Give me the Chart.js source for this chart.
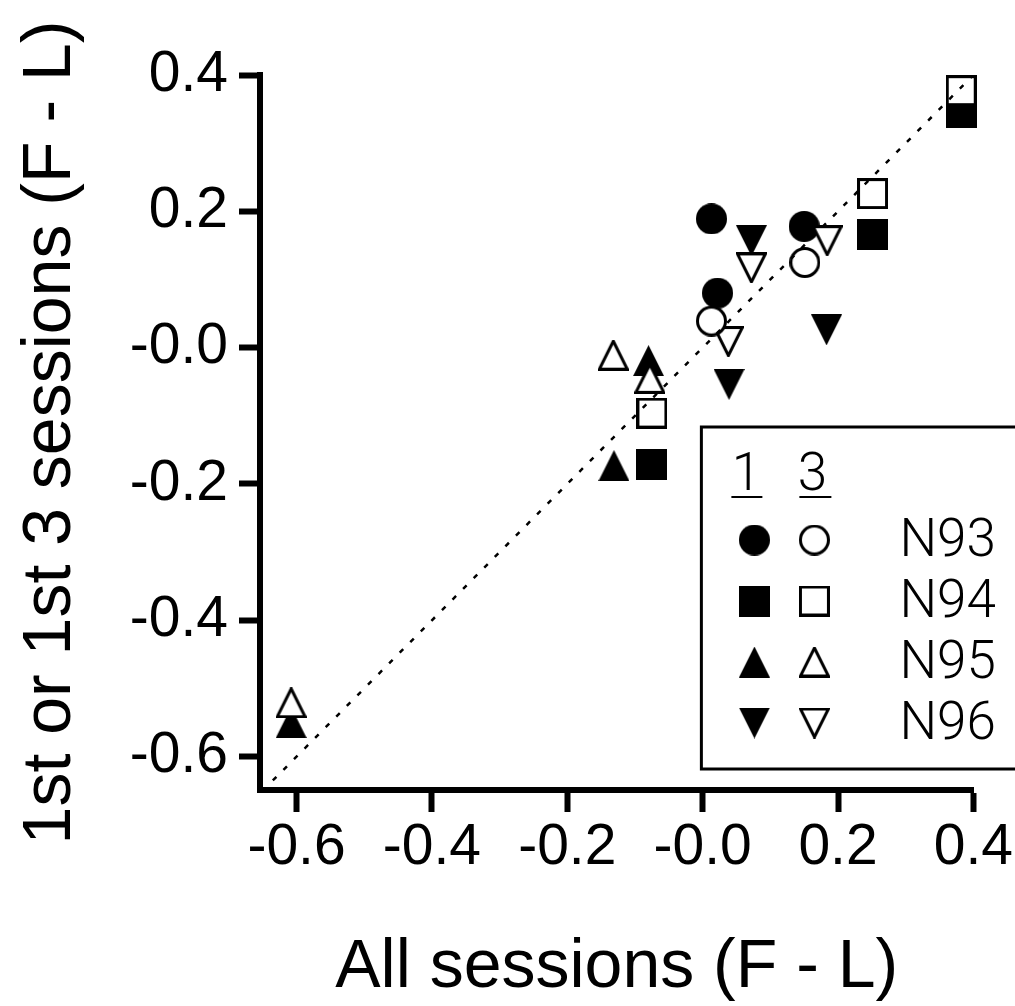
<!DOCTYPE html>
<html>
<head>
<meta charset="utf-8">
<script src="https://cdn.jsdelivr.net/npm/chart.js@4.4.1/dist/chart.umd.min.js"></script>
<style>
  html, body { margin: 0; padding: 0; background: #fff; }
  #wrap { width: 1015px; height: 1006px; }
</style>
</head>
<body>
<div id="wrap"><canvas id="scatter"></canvas></div>
<script>
// [all sessions (F - L), 1st or 1st 3 sessions (F - L)]
const n93First = [[0.013, 0.189], [0.022, 0.080], [0.150, 0.178]];
const n93Three = [[0.013, 0.039], [0.151, 0.125]];
const n94First = [[0.382, 0.345], [0.251, 0.166], [-0.075, -0.172]];
const n94Three = [[0.382, 0.377], [0.251, 0.226], [-0.075, -0.096]];
const n95First = [[-0.131, -0.173], [-0.080, -0.019], [-0.608, -0.550]];
const n95Three = [[-0.132, -0.011], [-0.078, -0.045], [-0.608, -0.521]];
const n96First = [[0.072, 0.157], [0.183, 0.026], [0.039, -0.054]];
const n96Three = [[0.072, 0.117], [0.184, 0.157], [0.038, 0.009]];
const identityLine = [-0.635, 0.4];
const tickValues = [-0.6, -0.4, -0.2, 0, 0.2, 0.4];
const tickLabels = ['-0.6', '-0.4', '-0.2', '-0.0', '0.2', '0.4'];
const subjects = ['N93', 'N94', 'N95', 'N96'];
const columnHeads = ['1', '3'];

// symbols as little canvases so open ones get a white fill like the original
function symbol(shape, filled) {
  const s = 31;
  const c = document.createElement('canvas');
  c.width = s; c.height = s;
  const g = c.getContext('2d');
  g.fillStyle = filled ? '#000' : '#fff';
  g.strokeStyle = '#000';
  g.lineWidth = 3;
  const i = filled ? 0 : 1.5;
  g.beginPath();
  if (shape === 'circle') {
    g.arc(s / 2, s / 2, s / 2 - i, 0, Math.PI * 2);
  } else if (shape === 'square') {
    g.rect(i, i, s - 2 * i, s - 2 * i);
  } else if (shape === 'up') {
    g.moveTo(s / 2, i); g.lineTo(s - i, s - i); g.lineTo(i, s - i); g.closePath();
  } else {
    g.moveTo(i, i); g.lineTo(s - i, i); g.lineTo(s / 2, s - i); g.closePath();
  }
  g.fill();
  if (!filled) g.stroke();
  return c;
}
const shapes = ['circle', 'square', 'up', 'down'];
const filledSym = shapes.map(s => symbol(s, true));
const openSym = shapes.map(s => symbol(s, false));

const pts = a => a.map(p => ({ x: p[0], y: p[1] }));
const firstSets = [n93First, n94First, n95First, n96First];
const threeSets = [n93Three, n94Three, n95Three, n96Three];

const datasets = [{
  type: 'line',
  data: identityLine.map(v => ({ x: v, y: v })),
  borderColor: '#000',
  borderWidth: 2.5,
  borderDash: [5, 10],
  pointRadius: 0,
  showLine: true,
  order: 0
}];
threeSets.forEach((d, k) => datasets.push({
  label: subjects[k] + ' 3', data: pts(d), pointStyle: openSym[k], pointRadius: 15, clip: false, order: 1
}));
firstSets.forEach((d, k) => datasets.push({
  label: subjects[k] + ' 1', data: pts(d), pointStyle: filledSym[k], pointRadius: 15, clip: false, order: 2
}));

const legendBox = {
  id: 'legendBox',
  afterDatasetsDraw(chart) {
    const g = chart.ctx;
    const a = chart.chartArea;
    const bx = a.right - 272, by = a.bottom - 363;
    g.save();
    g.fillStyle = '#fff';
    g.fillRect(bx, by, 340, 342);
    g.lineWidth = 3;
    g.strokeStyle = '#000';
    g.strokeRect(bx, by, 340, 342);
    g.fillStyle = '#000';
    g.font = '300 53px Roboto, "Liberation Sans", sans-serif';
    g.textAlign = 'center';
    g.textBaseline = 'alphabetic';
    g.fillText(columnHeads[0], bx + 45, by + 63);
    g.fillText(columnHeads[1], bx + 111, by + 63);
    g.fillRect(bx + 30, by + 69, 31, 2);
    g.fillRect(bx + 98, by + 69, 32, 2);
    g.textAlign = 'left';
    subjects.forEach((name, k) => {
      const cy = by + 113 + k * 61;
      g.drawImage(filledSym[k], bx + 53 - 15.5, cy - 15.5);
      g.drawImage(openSym[k], bx + 113 - 15.5, cy - 15.5);
      g.fillText(name, bx + 198, cy + 16);
    });
    g.restore();
  }
};

const tickFont = { family: '"Liberation Sans", Arial, sans-serif', size: 57 };
const titleFont = { family: '"Liberation Sans", Arial, sans-serif', size: 68, lineHeight: 1.1 };
const axisBase = {
  type: 'linear',
  max: 0.4,
  afterBuildTicks: s => { s.ticks = tickValues.map(v => ({ value: v })); },
  border: { display: true, color: '#000', width: 6 },
  grid: { display: true, drawOnChartArea: false, color: '#000', tickColor: '#000', tickWidth: 6 }
};

new Chart(document.getElementById('scatter'), {
  type: 'scatter',
  data: { datasets },
  options: {
    responsive: true,
    maintainAspectRatio: false,
    animation: false,
    layout: { padding: { top: 75, right: 41, bottom: 0, left: 0 } },
    plugins: { legend: { display: false }, tooltip: { enabled: false } },
    scales: {
      x: Object.assign({}, axisBase, {
        min: -0.654,
        afterFit: s => { s.height = 216; },
        grid: Object.assign({}, axisBase.grid, { tickLength: 22 }),
        ticks: { color: '#000', font: tickFont, padding: 2, maxRotation: 0, callback: (v, i) => tickLabels[i] },
        title: { display: true, text: 'All sessions (F - L)', color: '#000', font: titleFont, padding: 0 }
      }),
      y: Object.assign({}, axisBase, {
        min: -0.649,
        afterFit: s => { s.width = 260; },
        grid: Object.assign({}, axisBase.grid, { tickLength: 21 }),
        ticks: { color: '#000', font: tickFont, padding: 11, callback: (v, i) => tickLabels[i] },
        title: { display: true, text: '1st or 1st 3 sessions (F - L)', color: '#000', font: titleFont, padding: { top: 14, bottom: 0 } }
      })
    }
  },
  plugins: [legendBox]
});
</script>
</body>
</html>
